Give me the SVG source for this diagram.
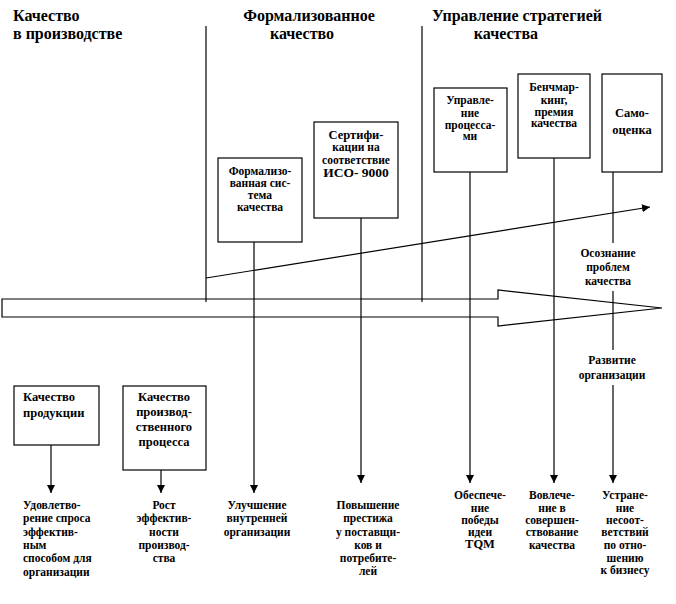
<svg xmlns="http://www.w3.org/2000/svg" width="676" height="604" viewBox="0 0 676 604" font-family="'Liberation Serif', 'Times New Roman', 'DejaVu Serif', serif">
<style>
text{font-family:'Liberation Serif','Times New Roman','DejaVu Serif',serif;font-weight:700;fill:#000}
.h{font-size:16px}
.t{font-size:11.5px}
.b{font-size:12.5px}
.c{text-anchor:middle}
.box{fill:#fff;stroke:#000;stroke-width:1.2}
.ln{stroke:#000;stroke-width:1.2;fill:none}
</style>
<defs>
<marker id="ah" viewBox="0 0 10 10" refX="10" refY="5" markerWidth="8" markerHeight="8" markerUnits="userSpaceOnUse" orient="auto">
<path d="M0,0 L10,5 L0,10 z" fill="#000"/>
</marker>
</defs>
<rect width="676" height="604" fill="#fff"/>
<g id="headers">
<text class="h" x="13" y="21">Качество</text>
<text class="h" x="13" y="39">в производстве</text>
<text class="h c" x="309" y="21">Формализованное</text>
<text class="h c" x="302" y="39">качество</text>
<text class="h" x="432" y="21">Управление стратегией</text>
<text class="h c" x="506" y="39">качества</text>
</g>
<g id="main-arrow">
<path class="ln" d="M2,299 L498,299 L498,290 L662,308 L498,326 L498,317 L2,317 Z" stroke-width="1.4"/>
</g>
<g id="connectors">
<line class="ln" x1="206" y1="26" x2="206" y2="302"/>
<line class="ln" x1="422" y1="26" x2="422" y2="302"/>
<line class="ln" x1="206" y1="278" x2="650" y2="207" marker-end="url(#ah)" stroke-width="1.4"/>
<line class="ln" x1="254" y1="242" x2="254" y2="493" marker-end="url(#ah)"/>
<line class="ln" x1="361" y1="218" x2="361" y2="483" marker-end="url(#ah)"/>
<line class="ln" x1="470" y1="172" x2="470" y2="483" marker-end="url(#ah)"/>
<line class="ln" x1="554" y1="158" x2="554" y2="483" marker-end="url(#ah)"/>
<line class="ln" x1="613" y1="172" x2="613" y2="243"/>
<line class="ln" x1="613" y1="291" x2="613" y2="350"/>
<line class="ln" x1="613" y1="385" x2="613" y2="483" marker-end="url(#ah)"/>
<line class="ln" x1="51" y1="445" x2="51" y2="493" marker-end="url(#ah)"/>
<line class="ln" x1="161" y1="470" x2="161" y2="493" marker-end="url(#ah)"/>
</g>
<g id="n-formal">
<rect class="box" x="218" y="158" width="84" height="84"/>
<text class="t c" x="260" y="175">Формализо-</text>
<text class="t c" x="260" y="187">ванная сис-</text>
<text class="t c" x="260" y="199">тема</text>
<text class="t c" x="260" y="211">качества</text>
</g>
<g id="n-cert">
<rect class="box" x="314" y="122" width="84" height="96"/>
<text class="b c" x="356" y="139">Сертифи-</text>
<text class="t c" x="356" y="151">кации на</text>
<text class="t c" x="356" y="164">соответствие</text>
<text class="c" x="356" y="177" style="font-size:13.5px">ИСО- 9000</text>
</g>
<g id="n-process">
<rect class="box" x="434" y="88" width="73" height="84"/>
<text class="t c" x="470" y="104">Управле-</text>
<text class="t c" x="470" y="117">ние</text>
<text class="t c" x="470" y="129">процесса-</text>
<text class="t c" x="470" y="140">ми</text>
</g>
<g id="n-bench">
<rect class="box" x="518" y="74" width="72" height="84"/>
<text class="t c" x="554" y="91">Бенчмар-</text>
<text class="t c" x="554" y="104">кинг,</text>
<text class="t c" x="554" y="116">премия</text>
<text class="t c" x="554" y="127">качества</text>
</g>
<g id="n-self">
<rect class="box" x="602" y="74" width="60" height="98"/>
<text class="b c" x="632" y="117">Само-</text>
<text class="b c" x="632" y="134">оценка</text>
</g>
<g id="n-aware">
<text class="t c" x="608" y="257">Осознание</text>
<text class="t c" x="608" y="271">проблем</text>
<text class="t c" x="608" y="285">качества</text>
</g>
<g id="n-develop">
<text class="t c" x="612" y="364">Развитие</text>
<text class="t c" x="612" y="379">организации</text>
</g>
<g id="n-product">
<rect class="box" x="14" y="386" width="85" height="59"/>
<text class="b" x="23" y="401">Качество</text>
<text class="b" x="23" y="417">продукции</text>
</g>
<g id="n-prodprocess">
<rect class="box" x="123" y="386" width="83" height="84"/>
<text class="b c" x="164" y="401">Качество</text>
<text class="b c" x="164" y="416">производ-</text>
<text class="b c" x="164" y="431">ственного</text>
<text class="b c" x="164" y="446">процесса</text>
</g>
<g id="r-demand">
<text class="t" x="23" y="509">Удовлетво-</text>
<text class="t" x="23" y="522">рение спроса</text>
<text class="t" x="23" y="536">эффектив-</text>
<text class="t" x="23" y="549">ным</text>
<text class="t" x="23" y="562">способом для</text>
<text class="t" x="23" y="576">организации</text>
</g>
<g id="r-efficiency">
<text class="t c" x="164" y="509">Рост</text>
<text class="t c" x="164" y="522">эффектив-</text>
<text class="t c" x="164" y="536">ности</text>
<text class="t c" x="164" y="549">производ-</text>
<text class="t c" x="164" y="562">ства</text>
</g>
<g id="r-internal">
<text class="t c" x="257" y="509">Улучшение</text>
<text class="t c" x="257" y="522">внутренней</text>
<text class="t c" x="257" y="536">организации</text>
</g>
<g id="r-prestige">
<text class="t c" x="368" y="509">Повышение</text>
<text class="t c" x="368" y="522">престижа</text>
<text class="t c" x="368" y="536">у поставщи-</text>
<text class="t c" x="368" y="549">ков и</text>
<text class="t c" x="368" y="562">потребите-</text>
<text class="t c" x="368" y="575">лей</text>
</g>
<g id="r-tqm">
<text class="t c" x="480" y="499">Обеспече-</text>
<text class="t c" x="480" y="512">ние</text>
<text class="t c" x="480" y="524">победы</text>
<text class="t c" x="480" y="536">идеи</text>
<text class="c" x="480" y="548" style="font-size:12.5px">TQM</text>
</g>
<g id="r-involve">
<text class="t c" x="552" y="499">Вовлече-</text>
<text class="t c" x="552" y="512">ние в</text>
<text class="t c" x="552" y="524">совершен-</text>
<text class="t c" x="552" y="536">ствование</text>
<text class="t c" x="552" y="549">качества</text>
</g>
<g id="r-nonconf">
<text class="t c" x="625" y="499">Устране-</text>
<text class="t c" x="625" y="512">ние</text>
<text class="t c" x="625" y="524">несоот-</text>
<text class="t c" x="625" y="536">ветствий</text>
<text class="t c" x="625" y="549">по отно-</text>
<text class="t c" x="625" y="562">шению</text>
<text class="t c" x="625" y="574">к бизнесу</text>
</g>
</svg>
